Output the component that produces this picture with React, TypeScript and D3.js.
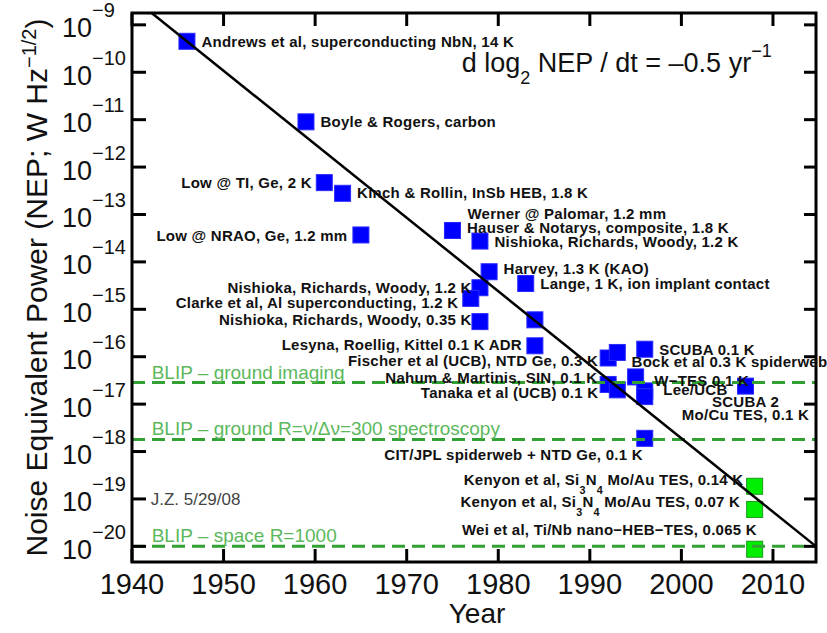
import React from "react";
import * as d3 from "d3";

// ---- data ----
const detectorNames = [
  "Andrews et al, superconducting NbN, 14 K",
  "Boyle & Rogers, carbon",
  "Low @ TI, Ge, 2 K",
  "Kinch & Rollin, InSb HEB, 1.8 K",
  "Low @ NRAO, Ge, 1.2 mm",
  "Werner @ Palomar, 1.2 mm",
  "Hauser & Notarys, composite, 1.8 K",
  "Nishioka, Richards, Woody, 1.2 K",
  "Harvey, 1.3 K (KAO)",
  "Lange, 1 K, ion implant contact",
  "Nishioka, Richards, Woody, 1.2 K",
  "Clarke et al, Al superconducting, 1.2 K",
  "Nishioka, Richards, Woody, 0.35 K",
  "",
  "Lesyna, Roellig, Kittel 0.1 K ADR",
  "Fischer et al (UCB), NTD Ge, 0.3 K",
  "",
  "SCUBA 0.1 K",
  "Bock et al 0.3 K spiderweb",
  "Nahum & Martinis, SIN, 0.1 K",
  "Tanaka et al (UCB) 0.1 K",
  "W\u2212TES 0.1 K",
  "Lee/UCB",
  "SCUBA 2|Mo/Cu TES, 0.1 K",
  "CIT/JPL spiderweb + NTD Ge, 0.1 K",
  "Kenyon et al, Si_3N_4 Mo/Au TES, 0.14 K",
  "Kenyon et al, Si_3N_4 Mo/Au TES, 0.07 K",
  "Wei et al, Ti/Nb nano\u2212HEB\u2212TES, 0.065 K",
];
const detectorYears = [
  1946, 1959, 1961, 1963, 1965, 1975, 1975, 1978, 1979, 1983, 1978, 1977, 1978, 1984,
  1984, 1992, 1993, 1996, 1995, 1992, 1993, 1996, 1996, 2007, 1996, 2008, 2008, 2008,
];
const detectorNEP = [
  4.5e-10, 9e-12, 4.7e-13, 2.8e-13, 3.7e-14, 4.6e-14, 4.6e-14, 2.75e-14, 6.2e-15, 3.5e-15,
  2.85e-15, 1.7e-15, 5.5e-16, 6.0e-16, 1.7e-16, 9.4e-17, 1.23e-16, 1.44e-16, 3.75e-17,
  2.6e-17, 2.0e-17, 1.9e-17, 1.44e-17, 2.4e-17, 1.9e-18, 1.85e-19, 6.0e-20, 8.7e-21,
];
const detectorGroup = [
  "past", "past", "past", "past", "past", "past", "past", "past", "past", "past",
  "past", "past", "past", "past", "past", "past", "past", "past", "past", "past",
  "past", "past", "past", "past", "past", "new", "new", "new",
];

const blipLabels = [
  "BLIP \u2013 ground imaging",
  "BLIP \u2013 ground R=\u03bd/\u0394\u03bd=300 spectroscopy",
  "BLIP \u2013 space R=1000",
];
const blipNEP = [2.85e-17, 1.8e-18, 1e-20];

const trendYears = [1942.15, 2014.7];
const trendNEP = [1.77e-9, 1.0e-20];

const yearTicks = [1940, 1950, 1960, 1970, 1980, 1990, 2000, 2010];
const decadeExponents = [-9, -10, -11, -12, -13, -14, -15, -16, -17, -18, -19, -20];

// ---- label layout (anchor, dx, dy relative to marker centre) ----
const labelLayout: [string, number, number][] = [
  ["start", 14.5, 5.5], ["start", 14.5, 5], ["end", -12.5, 5], ["start", 14.5, 5],
  ["end", -13.5, 5.7], ["start", 15, -11], ["start", 14.5, 3], ["start", 14.5, 6],
  ["start", 14.5, 2], ["start", 14.5, 5.3], ["end", -8.3, 5.3], ["end", -12.5, 9.6],
  ["end", -8.3, 3.3], ["start", 0, 0], ["end", -13, 4.5], ["end", -10, 7.7],
  ["start", 0, 0], ["start", 14.5, 5.5], ["start", -4, -9.5], ["end", -10.8, -1.8],
  ["end", -19, 8.3], ["start", 9.5, -5.3], ["start", 18.5, -2], ["middle", 0, 21],
  ["end", -2, 21.7], ["end", -11.2, -1.7], ["end", -14.5, -2.1], ["end", 2.2, -14.7],
];

const SANS = "'Liberation Sans', Arial, Helvetica, sans-serif";

function richText(s: string, size: number) {
  const parts = s.split(/_(\d)/);
  const out: React.ReactNode[] = [];
  let shifted = false;
  parts.forEach((p, i) => {
    if (i % 2 === 1) {
      out.push(
        <tspan key={i} fontSize={size * 0.72} dy={9}>{p}</tspan>
      );
      shifted = true;
    } else if (p.length) {
      out.push(
        <tspan key={i} fontSize={size} dy={shifted ? -9 : 0}>{p}</tspan>
      );
      shifted = false;
    }
  });
  return out;
}

export default function App() {
  const W = 827, H = 633;
  const x = d3.scaleLinear().domain([1940, 2014.7]).range([132, 816]);
  const y = d3.scaleLog().domain([Math.pow(10, -20.33), Math.pow(10, -8.75)]).range([562, 13]);
  const [x0, x1] = x.range();
  const [yb, yt] = y.range();
  const tick = 13;
  const sq = 16;

  const trendPath = d3.line<number>()
    .x((_, i) => x(trendYears[i]))
    .y((_, i) => y(trendNEP[i]))(trendYears) as string;

  const labelSize = 15;

  return (
    <svg width={W} height={H} style={{ position: "absolute", left: 0, top: 0, background: "#fff" }}
      fontFamily={SANS}>
      <rect x={0} y={0} width={W} height={H} fill="#fff" />

      {/* markers */}
      {detectorYears.map((yr, i) => {
        const cx = x(yr), cy = y(detectorNEP[i]);
        const isNew = detectorGroup[i] === "new";
        return (
          <rect key={"m" + i} x={cx - sq / 2} y={cy - sq / 2} width={sq} height={sq}
            fill={isNew ? "#00ee00" : "#0000ff"}
            stroke={isNew ? "#1a9a1a" : "#2a2aff"} strokeWidth={1} />
        );
      })}

      {/* BLIP dashed lines */}
      {blipNEP.map((v, i) => (
        <line key={"b" + i} x1={x0} x2={x1} y1={y(v)} y2={y(v)}
          stroke="#33a033" strokeWidth={3} strokeDasharray="13,7" />
      ))}

      {/* trend line */}
      <path d={trendPath} fill="none" stroke="#000" strokeWidth={2.5} />

      {/* ticks */}
      {yearTicks.map((t) => (
        <g key={"xt" + t}>
          <line x1={x(t)} x2={x(t)} y1={yb} y2={yb - tick} stroke="#000" strokeWidth={3} />
          <line x1={x(t)} x2={x(t)} y1={yt} y2={yt + tick} stroke="#000" strokeWidth={3} />
        </g>
      ))}
      {decadeExponents.map((e) => {
        const yy = y(Math.pow(10, e));
        return (
          <g key={"yt" + e}>
            <line x1={x0} x2={x0 + 14} y1={yy} y2={yy} stroke="#000" strokeWidth={3} />
            <line x1={x1} x2={x1 - 12} y1={yy} y2={yy} stroke="#000" strokeWidth={3} />
          </g>
        );
      })}

      {/* frame */}
      <rect x={x0} y={yt} width={x1 - x0} height={yb - yt} fill="none" stroke="#000" strokeWidth={3} />

      {/* tick labels */}
      {yearTicks.map((t) => (
        <text key={"xl" + t} x={x(t)} y={594} textAnchor="middle" fontSize={29} fill="#111">{t}</text>
      ))}
      {decadeExponents.map((e) => {
        const yy = y(Math.pow(10, e));
        return (
          <text key={"yl" + e} x={62} y={yy + 12.5} fontSize={27} fill="#111">
            10<tspan fontSize={20} dy={-20}>{"\u2212" + Math.abs(e)}</tspan>
          </text>
        );
      })}

      {/* axis titles */}
      <text x={477} y={623} textAnchor="middle" fontSize={28} fill="#111">Year</text>
      <text transform={`translate(47,${(yt + yb) / 2}) rotate(-90)`} textAnchor="middle" fontSize={30} fill="#111">
        Noise Equivalent Power (NEP; W Hz<tspan fontSize={20} dy={-11}>{"\u22121/2"}</tspan>
        <tspan dy={11}>)</tspan>
      </text>

      {/* formula */}
      <text x={461.7} y={71.7} fontSize={27} fill="#111">
        d log<tspan fontSize={18} dy={12}>2</tspan>
        <tspan dy={-12}>{" NEP / dt = \u20130.5 yr"}</tspan>
        <tspan fontSize={18} dy={-15}>{"\u22121"}</tspan>
      </text>

      {/* BLIP labels */}
      {blipLabels.map((s, i) => (
        <text key={"bl" + i} x={151.7} y={y(blipNEP[i]) - 4} fontSize={19} fill="#5cb85c">{s}</text>
      ))}

      <text x={150.7} y={505} fontSize={17} fill="#444">J.Z. 5/29/08</text>

      {/* detector labels */}
      {detectorNames.map((name, i) => {
        if (!name) return null;
        const [anchor, dx, dy] = labelLayout[i];
        const cx = x(detectorYears[i]) + dx, cy = y(detectorNEP[i]) + dy;
        const lines = name.split("|");
        return lines.map((ln, j) => (
          <text key={"l" + i + "_" + j} x={cx} y={cy + j * 13} textAnchor={anchor as any}
            fontSize={labelSize} fontWeight="bold" letterSpacing={0.25} fill="#111">
            {richText(ln, labelSize)}
          </text>
        ));
      })}
    </svg>
  );
}
